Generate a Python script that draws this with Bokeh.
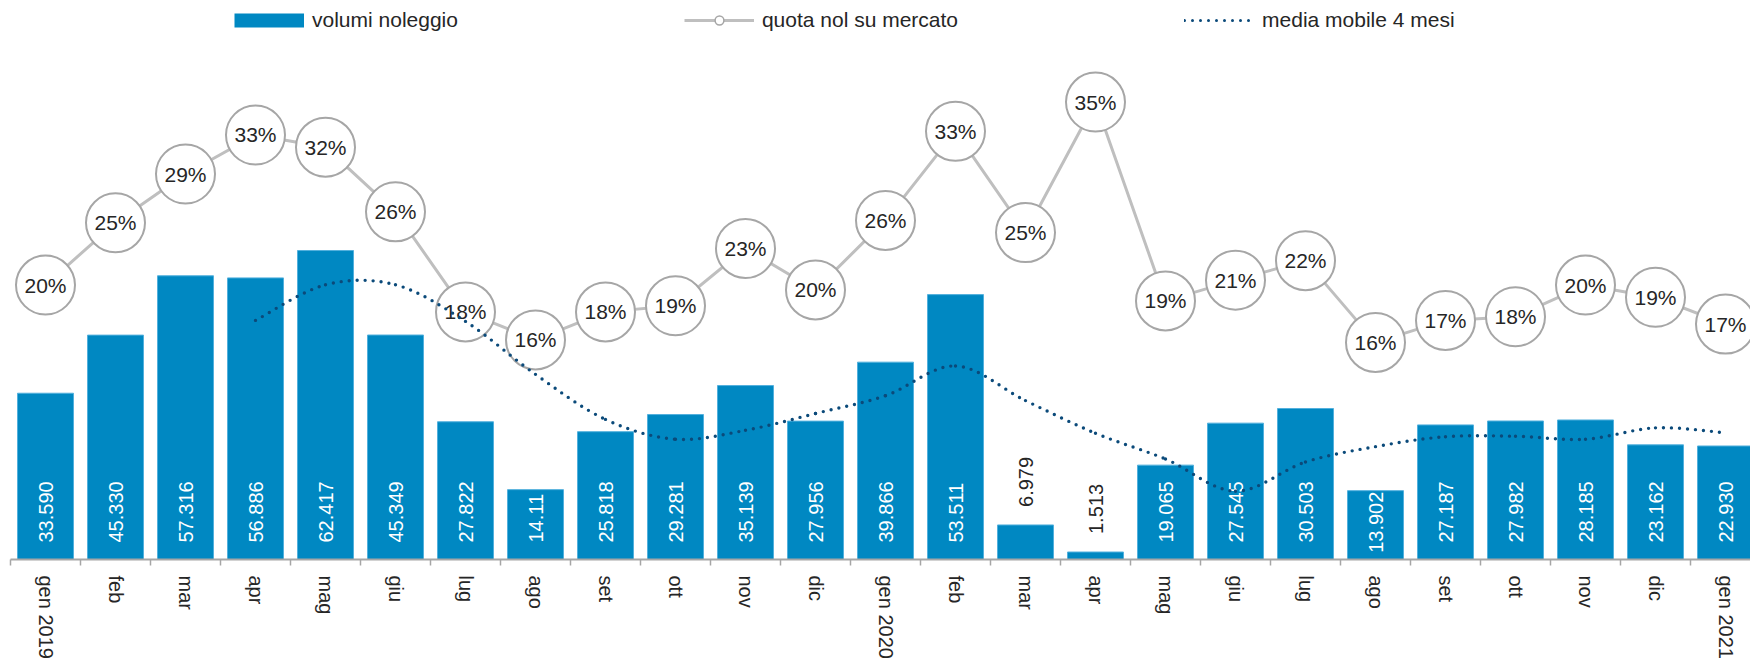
import math
from bokeh.plotting import figure
from bokeh.models import ColumnDataSource, Range1d, FixedTicker, Legend, LegendItem
from bokeh.embed import file_html
from bokeh.resources import INLINE
from bokeh.core.properties import value

# ---------------- data ----------------
months = ["gen 2019", "feb", "mar", "apr", "mag", "giu", "lug", "ago", "set", "ott",
          "nov", "dic", "gen 2020", "feb", "mar", "apr", "mag", "giu", "lug", "ago",
          "set", "ott", "nov", "dic", "gen 2021"]
volumes = [33590, 45330, 57316, 56886, 62417, 45349, 27822, 14110, 25818, 29281,
           35139, 27956, 39866, 53511, 6979, 1513, 19065, 27545, 30503, 13902,
           27187, 27982, 28185, 23162, 22930]
volume_labels = ["33.590", "45.330", "57.316", "56.886", "62.417", "45.349", "27.822",
                 "14.11", "25.818", "29.281", "35.139", "27.956", "39.866", "53.511",
                 "6.979", "1.513", "19.065", "27.545", "30.503", "13.902", "27.187",
                 "27.982", "28.185", "23.162", "22.930"]
share_pct = [20.3, 25.4, 29.4, 32.6, 31.6, 26.3, 18.1, 15.8, 18.1, 18.6, 23.3, 19.9,
             25.6, 32.9, 24.6, 35.3, 19.0, 20.7, 22.3, 15.6, 17.4, 17.7, 20.3, 19.3, 17.1]
moving_avg = [None, None, None, 48300, 55500, 55500, 48100, 37400, 28300, 24300,
              26100, 29500, 33100, 39100, 32100, 25500, 20300, 13800, 19700, 22800,
              24800, 24900, 24300, 26600, 25600]

# ---------------- styles / layout ----------------
BAR = "#0088c2"
BAR_EDGE = "#52b0dd"
SHARE_LINE = "#bfbfbf"
CIRCLE_EDGE = "#a6a6a6"
MA = "#0b4a7a"
TXT = "#262626"
FONT = value("Liberation Sans")

W, H = 1750, 662
LEFT = 10            # frame left (px)
BOTTOM_BORDER = 103  # room for the vertical month labels
FRAME_H = H - BOTTOM_BORDER
PX_PER_CAT = 70.0
PX_PER_UNIT = 0.00495   # bar axis scale
PX_PER_PCT = 12.2       # share axis scale
PCT0_FROM_TOP = 532.2   # where 0% sits

LABEL_PX = 20
def text_len_px(s):
    return sum(0.278 if ch == "." else 0.556 for ch in s) * LABEL_PX

xs = list(range(len(months)))
inside = [v >= 10000 for v in volumes]
lab_off = []
for v, s, ins in zip(volumes, volume_labels, inside):
    if ins:
        lab_off.append(-min(17.0, v * PX_PER_UNIT - text_len_px(s) - 1))
    else:
        lab_off.append(-18.0)

src = ColumnDataSource(dict(
    x=xs, vol=volumes, lab=volume_labels,
    laby=[0 if ins else v for ins, v in zip(inside, volumes)],
    labc=["white" if ins else TXT for ins in inside],
    laboff=lab_off,
    pct=share_pct, pctlab=[f"{round(v)}%" for v in share_pct],
))

p = figure(width=W, height=H, output_backend="svg", toolbar_location=None,
           x_range=Range1d(-0.5, -0.5 + (W - LEFT) / PX_PER_CAT),
           y_range=Range1d(0, FRAME_H / PX_PER_UNIT),
           y_axis_location=None, min_border_left=LEFT, min_border_right=0,
           min_border_top=0, min_border_bottom=BOTTOM_BORDER)
p.extra_y_ranges = {"pct": Range1d(-(FRAME_H - PCT0_FROM_TOP) / PX_PER_PCT,
                                   PCT0_FROM_TOP / PX_PER_PCT)}
p.xgrid.visible = False
p.ygrid.visible = False
p.outline_line_color = None
p.background_fill_color = "white"

# bars
p.vbar(x="x", top="vol", width=0.8, source=src, fill_color=BAR,
       line_color=BAR_EDGE, line_width=1)
p.text(x="x", y="laby", text="lab", source=src, angle=math.pi / 2,
       text_align="left", text_baseline="middle", y_offset="laboff",
       text_color="labc", text_font=FONT, text_font_size=f"{LABEL_PX}px")

# share line with circles
p.line(x="x", y="pct", source=src, y_range_name="pct", line_color=SHARE_LINE, line_width=3)
p.scatter(x="x", y="pct", source=src, y_range_name="pct", size=59, fill_color="white",
          line_color=CIRCLE_EDGE, line_width=2)
p.text(x="x", y="pct", text="pctlab", source=src, y_range_name="pct",
       text_align="center", text_baseline="middle", text_color=TXT,
       text_font=FONT, text_font_size="21px")

# smoothed moving average (Catmull-Rom -> bezier segments through the data points)
mi = [i for i, v in enumerate(moving_avg) if v is not None]
px = [float(i) for i in mi]
py = [float(moving_avg[i]) for i in mi]
n = len(px)
bz = dict(x0=[], y0=[], x1=[], y1=[], cx0=[], cy0=[], cx1=[], cy1=[])
for k in range(n - 1):
    km, kp = max(k - 1, 0), min(k + 2, n - 1)
    bz["x0"].append(px[k]); bz["y0"].append(py[k])
    bz["x1"].append(px[k + 1]); bz["y1"].append(py[k + 1])
    bz["cx0"].append(px[k] + (px[k + 1] - px[km]) / 6)
    bz["cy0"].append(py[k] + (py[k + 1] - py[km]) / 6)
    bz["cx1"].append(px[k + 1] - (px[kp] - px[k]) / 6)
    bz["cy1"].append(py[k + 1] - (py[kp] - py[k]) / 6)
p.bezier(x0="x0", y0="y0", x1="x1", y1="y1", cx0="cx0", cy0="cy0", cx1="cx1", cy1="cy1",
         source=ColumnDataSource(bz), line_color=MA, line_width=3.4,
         line_dash="0 8", line_cap="round")

# x axis: labels at category centres, ticks at boundaries
ax = p.xaxis[0]
ax.ticker = FixedTicker(ticks=xs, minor_ticks=[i - 0.5 for i in range(len(months) + 1)])
ax.major_label_overrides = {i: m for i, m in enumerate(months)}
ax.major_label_orientation = "vertical"
ax.major_tick_line_color = None
ax.major_tick_out = 0
ax.major_tick_in = 0
ax.minor_tick_out = 6
ax.minor_tick_in = 0
ax.minor_tick_line_color = CIRCLE_EDGE
ax.minor_tick_line_width = 1.5
ax.axis_line_color = CIRCLE_EDGE
ax.axis_line_width = 2
ax.major_label_text_font = "Liberation Sans"
ax.major_label_text_font_size = "20px"
ax.major_label_text_color = TXT
ax.major_label_standoff = 10

# legend (sample renderers carry no visible data)
nan_src = ColumnDataSource(dict(x=[float("nan")], y=[float("nan")]))
lg_bar = p.line("x", "y", source=nan_src, line_color=BAR, line_width=14)
lg_sl = p.line("x", "y", source=nan_src, line_color=SHARE_LINE, line_width=3)
lg_sc = p.scatter("x", "y", source=nan_src, fill_color="white", line_color=CIRCLE_EDGE,
                  line_width=1.5)
lg_ma = p.line("x", "y", source=nan_src, line_color=MA, line_width=3,
               line_dash="0 8", line_cap="round")
legend = Legend(items=[LegendItem(label="volumi noleggio", renderers=[lg_bar]),
                       LegendItem(label="quota nol su mercato", renderers=[lg_sl, lg_sc]),
                       LegendItem(label="media mobile 4 mesi", renderers=[lg_ma])],
                location=(224, FRAME_H - 32), orientation="horizontal",
                glyph_width=70, glyph_height=22, label_standoff=8, spacing=226,
                padding=0, margin=0, border_line_alpha=0, background_fill_alpha=0,
                label_text_font="Liberation Sans", label_text_font_size="21px",
                label_text_color=TXT)
p.add_layout(legend)

open("out.html", "w").write(file_html(p, INLINE))
